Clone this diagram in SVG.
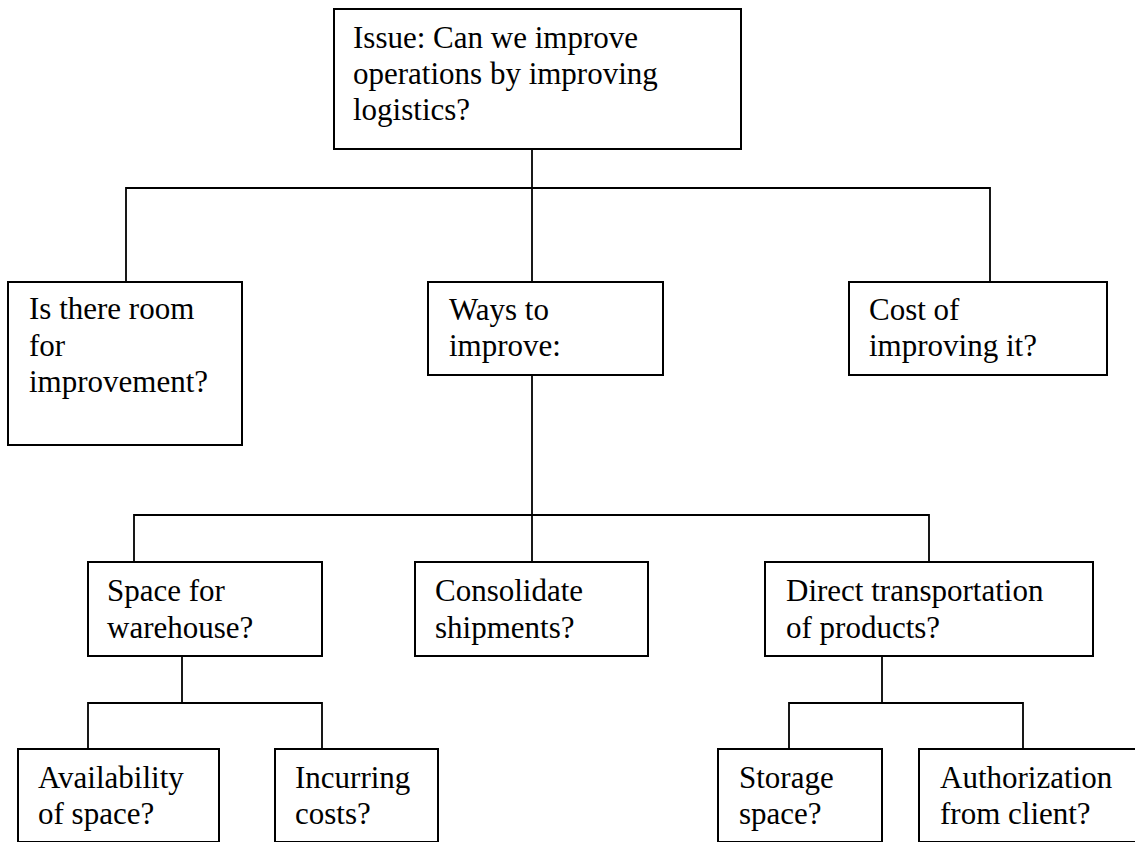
<svg xmlns="http://www.w3.org/2000/svg" width="1135" height="842" viewBox="0 0 1135 842">
  <style>
    .box { fill: #ffffff; stroke: #000000; stroke-width: 2; }
    .lbl { font-family: "Liberation Serif", "Times New Roman", serif; font-size: 31px; fill: #000000; }
    .wire { fill: none; stroke: #000000; stroke-width: 1.8; }
  </style>
  <rect width="1135" height="842" fill="#ffffff"/>

  <!-- tree connectors -->
  <g id="connectors">
    <!-- root to first level -->
    <path class="wire" d="M532 149 V282"/>
    <path class="wire" d="M126 282 V188 H990 V282"/>
    <!-- ways to improve to second level -->
    <path class="wire" d="M532 375 V562"/>
    <path class="wire" d="M134 562 V515 H929 V562"/>
    <!-- warehouse branch -->
    <path class="wire" d="M182 656 V703"/>
    <path class="wire" d="M88 749 V703 H322 V749"/>
    <!-- direct transportation branch -->
    <path class="wire" d="M882 656 V703"/>
    <path class="wire" d="M789 749 V703 H1023 V749"/>
  </g>

  <g id="root">
    <rect class="box" x="334" y="9" width="407" height="140"/>
    <text class="lbl"><tspan x="353" y="48">Issue: Can we improve</tspan><tspan x="353" y="84">operations by improving</tspan><tspan x="353" y="120">logistics?</tspan></text>
  </g>

  <g id="room">
    <rect class="box" x="8" y="282" width="234" height="163"/>
    <text class="lbl"><tspan x="29" y="319">Is there room</tspan><tspan x="29" y="356">for</tspan><tspan x="29" y="392">improvement?</tspan></text>
  </g>

  <g id="ways">
    <rect class="box" x="428" y="282" width="235" height="93"/>
    <text class="lbl"><tspan x="449" y="320">Ways to</tspan><tspan x="449" y="356">improve:</tspan></text>
  </g>

  <g id="cost">
    <rect class="box" x="849" y="282" width="258" height="93"/>
    <text class="lbl"><tspan x="869" y="320">Cost of</tspan><tspan x="869" y="356">improving it?</tspan></text>
  </g>

  <g id="warehouse">
    <rect class="box" x="88" y="562" width="234" height="94"/>
    <text class="lbl"><tspan x="107" y="601">Space for</tspan><tspan x="107" y="638">warehouse?</tspan></text>
  </g>

  <g id="consolidate">
    <rect class="box" x="415" y="562" width="233" height="94"/>
    <text class="lbl"><tspan x="435" y="601">Consolidate</tspan><tspan x="435" y="638">shipments?</tspan></text>
  </g>

  <g id="direct">
    <rect class="box" x="765" y="562" width="328" height="94"/>
    <text class="lbl"><tspan x="786" y="601">Direct transportation</tspan><tspan x="786" y="638">of products?</tspan></text>
  </g>

  <!-- bottom row runs off the lower page edge -->
  <g id="availability">
    <rect class="box" x="18" y="749" width="201" height="93"/>
    <text class="lbl"><tspan x="38" y="788">Availability</tspan><tspan x="38" y="824">of space?</tspan></text>
  </g>

  <g id="incurring">
    <rect class="box" x="275" y="749" width="163" height="93"/>
    <text class="lbl"><tspan x="295" y="788">Incurring</tspan><tspan x="295" y="824">costs?</tspan></text>
  </g>

  <g id="storage">
    <rect class="box" x="718" y="749" width="164" height="93"/>
    <text class="lbl"><tspan x="739" y="788">Storage</tspan><tspan x="739" y="824">space?</tspan></text>
  </g>

  <g id="authorization">
    <rect class="box" x="919" y="749" width="230" height="93"/>
    <text class="lbl"><tspan x="940" y="788">Authorization</tspan><tspan x="940" y="824">from client?</tspan></text>
  </g>
</svg>
